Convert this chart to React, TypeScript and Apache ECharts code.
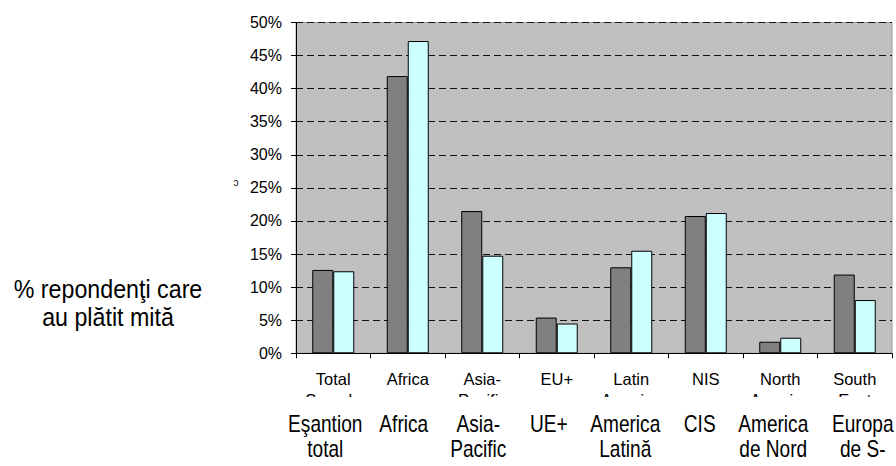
import React, { useEffect, useRef } from "react";
import * as echarts from "echarts";

const categories = ["Total\nSample", "Africa", "Asia-\nPacific", "EU+", "Latin\nAmerica", "NIS", "North\nAmerica", "South\nEast"];
const localLabels = ["Eşantion\ntotal", "Africa", "Asia-\nPacific", "UE+", "America\nLatină", "CIS", "America\nde Nord", "Europa\nde S-"];
const seriesDark = [12.6, 41.9, 21.5, 5.4, 13.0, 20.75, 1.75, 11.9];
const seriesLight = [12.4, 47.2, 14.75, 4.5, 15.5, 21.2, 2.35, 8.05];
const yMin = 0;
const yMax = 50;
const yStep = 5;
const sideLabel = "% repondenţi care\nau plătit mită";

// layout-only horizontal nudges of the translated labels (px)
const localLabelShift = [-8, -4, -4, -8, -6, -6, -7, 8];

const ARIAL = "'Liberation Sans', Arial, sans-serif";

export default function App() {
  const ref = useRef<HTMLDivElement>(null);
  useEffect(() => {
    if (!ref.current) return;
    const chart = echarts.init(ref.current, null, { renderer: "svg" });
    chart.setOption({
      animation: false,
      backgroundColor: "#ffffff",
      grid: {
        left: 296,
        right: 4,
        top: 22.5,
        bottom: 112.7,
        show: true,
        backgroundColor: "#c0c0c0",
        borderColor: "#9a9a9a",
        borderWidth: 1,
      },
      xAxis: {
        type: "category",
        data: categories,
        z: 0,
        axisLine: { show: true, lineStyle: { color: "#000", width: 1 } },
        axisTick: { show: true, length: 5, lineStyle: { color: "#000" } },
        axisLabel: {
          interval: 0,
          color: "#000",
          fontFamily: ARIAL,
          fontSize: 16.5,
          lineHeight: 21,
          margin: 15,
        },
        splitLine: { show: false },
      },
      yAxis: {
        type: "value",
        min: yMin,
        max: yMax,
        interval: yStep,
        axisLine: { show: true, lineStyle: { color: "#000", width: 1 } },
        axisTick: { show: true, length: 5, lineStyle: { color: "#000" } },
        axisLabel: {
          color: "#000",
          fontFamily: ARIAL,
          fontSize: 16,
          margin: 14,
          formatter: "{value}%",
        },
        splitLine: {
          show: true,
          lineStyle: { color: "#111", type: [7, 4], width: 1 },
        },
      },
      series: [
        {
          name: "dark",
          type: "bar",
          data: seriesDark,
          barWidth: 21,
          barGap: "0%",
          itemStyle: { color: "#808080", borderColor: "#000", borderWidth: 1 },
        },
        {
          name: "light",
          type: "bar",
          data: seriesLight,
          barWidth: 21,
          barGap: "0%",
          itemStyle: { color: "#ccffff", borderColor: "#000", borderWidth: 1 },
        },
      ],
    });

    const labelTexts = localLabels.map((txt, i) => {
      const cx = chart.convertToPixel({ xAxisIndex: 0 }, i) as number;
      return {
        type: "text",
        z: 100,
        x: cx + (localLabelShift[i] || 0),
        y: 411.5,
        scaleX: 0.83,
        style: {
          text: txt,
          fontFamily: ARIAL,
          fontSize: 23,
          lineHeight: 25,
          fill: "#000",
          align: "center",
          verticalAlign: "top",
        },
      };
    });

    chart.setOption({
      graphic: [
        {
          type: "rect",
          z: 50,
          shape: { x: 200, y: 397, width: 696, height: 69 },
          style: { fill: "#ffffff" },
        },
        ...labelTexts,
        {
          type: "text",
          z: 60,
          x: 108,
          y: 303,
          scaleX: 0.93,
          style: {
            text: sideLabel,
            fontFamily: ARIAL,
            fontSize: 25,
            lineHeight: 28,
            fill: "#000",
            align: "center",
            verticalAlign: "middle",
          },
        },
        {
          type: "text",
          z: 60,
          x: 236,
          y: 182,
          style: {
            text: "ɔ",
            fontFamily: ARIAL,
            fontSize: 10,
            fill: "#000",
            align: "center",
            verticalAlign: "middle",
          },
        },
      ],
    });
    return () => chart.dispose();
  }, []);
  return (
    <div
      ref={ref}
      style={{ position: "fixed", left: 0, top: 0, width: 896, height: 466 }}
    />
  );
}
